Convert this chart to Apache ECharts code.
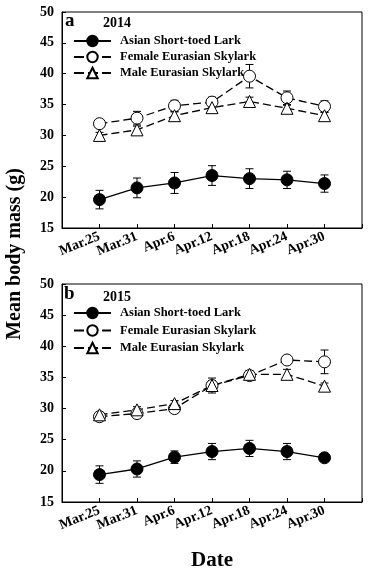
<!DOCTYPE html>
<html><head><meta charset="utf-8">
<script src="https://cdn.jsdelivr.net/npm/echarts@6/dist/echarts.min.js"></script>
<style>html,body{margin:0;padding:0;background:#fff}#c{width:370px;height:573px}</style>
</head><body><div id="c"></div>
<script>
const dates = ['Mar.25','Mar.31','Apr.6','Apr.12','Apr.18','Apr.24','Apr.30'];
const seriesNames = ['Asian Short-toed Lark','Female Eurasian Skylark','Male Eurasian Skylark'];
const yTicks = [15,20,25,30,35,40,45,50];
// 2014
const asian2014 = [19.6,21.5,22.3,23.5,23.0,22.8,22.2];
const asian2014Err = [1.5,1.6,1.7,1.6,1.6,1.4,1.4];
const female2014 = [31.9,32.8,34.8,35.4,39.6,36.1,34.7];
const female2014Err = [0.6,1.1,0.9,0.8,1.9,1.1,0.9];
const male2014 = [30.0,30.9,33.2,34.5,35.5,34.4,33.2];
const male2014Err = [0.5,0.6,0.6,0.5,0.7,0.5,0.5];
// 2015
const asian2015 = [19.4,20.3,22.2,23.1,23.6,23.1,22.1];
const asian2015Err = [1.4,1.3,1.0,1.3,1.3,1.3,0.6];
const female2015 = [28.7,29.2,30.0,33.7,35.3,37.8,37.5];
const female2015Err = [0.4,0.5,0.4,1.2,0.6,0.6,1.9];
const male2015 = [29.0,29.8,30.8,33.7,35.5,35.5,33.6];
const male2015Err = [0.4,0.5,0.5,0.8,0.6,0.8,0.5];

const FONT = '"Liberation Serif", "Times New Roman", serif';
const chart = echarts.init(document.getElementById('c'));

function pts(vals){ return vals.map((v,i)=>[i+1,v]); }
function errData(vals,errs){ return vals.map((v,i)=>[i+1,v-errs[i],v+errs[i]]); }

function lineSeries(name, vals, idx, kind){
  const base = {
    name, type:'line', xAxisIndex:idx, yAxisIndex:idx, data:pts(vals),
    symbolSize:12, z:5, animation:false
  };
  if(kind===0){
    base.symbol='circle';
    base.itemStyle={color:'#000',borderColor:'#000',borderWidth:1};
    base.lineStyle={color:'#000',width:1.3,type:'solid'};
  } else {
    base.symbol = kind===1 ? 'circle' : 'triangle';
    base.itemStyle={color:'#fff',borderColor:'#000',borderWidth:1};
    base.lineStyle={color:'#000',width:1.3,type:[8,4]};
  }
  return base;
}
function errSeries(vals, errs, idx){
  return {
    type:'custom', xAxisIndex:idx, yAxisIndex:idx, z:3, silent:true, animation:false,
    data: errData(vals,errs),
    renderItem:function(params, api){
      const lo = api.coord([api.value(0), api.value(1)]);
      const hi = api.coord([api.value(0), api.value(2)]);
      const w = 4;
      const st = {stroke:'#000', lineWidth:1};
      return {type:'group', children:[
        {type:'line', shape:{x1:lo[0],y1:lo[1],x2:hi[0],y2:hi[1]}, style:st},
        {type:'line', shape:{x1:lo[0]-w,y1:lo[1],x2:lo[0]+w,y2:lo[1]}, style:st},
        {type:'line', shape:{x1:hi[0]-w,y1:hi[1],x2:hi[0]+w,y2:hi[1]}, style:st}
      ]};
    }
  };
}
function xAxisDef(idx){
  return {
    gridIndex:idx, type:'value', min:0, max:8, interval:1,
    axisLine:{show:true,lineStyle:{color:'#000',width:1}},
    axisTick:{show:true,inside:true,length:4,lineStyle:{color:'#000'}},
    splitLine:{show:false},
    axisLabel:{
      rotate:22, margin:8, color:'#000', fontFamily:FONT, fontWeight:'bold', fontSize:14,
      formatter:function(v){ return (v>=1 && v<=7) ? dates[v-1] : ''; }
    }
  };
}
function yAxisDef(idx){
  return {
    gridIndex:idx, type:'value', min:yTicks[0], max:yTicks[yTicks.length-1], interval:5,
    axisLine:{show:true,lineStyle:{color:'#000',width:1}},
    axisTick:{show:true,inside:true,length:4,lineStyle:{color:'#000'}},
    splitLine:{show:false},
    axisLabel:{color:'#000', fontFamily:FONT, fontWeight:'bold', fontSize:14, margin:8}
  };
}
function legendDef(top, gap){
  return {
    data:[
      {name:seriesNames[0]},
      {name:seriesNames[1], lineStyle:{type:[10,4]}},
      {name:seriesNames[2], lineStyle:{type:[10,4]}}
    ],
    orient:'vertical', left:73, top:top, itemWidth:37, itemHeight:13,
    itemGap:gap, selectedMode:false, padding:0,
    textStyle:{color:'#000', fontFamily:FONT, fontWeight:'bold', fontSize:12.5, padding:[0,0,0,4]}
  };
}

chart.setOption({
  backgroundColor:'#fff',
  animation:false,
  grid:[
    {left:62, top:12, width:300, height:216, show:true, borderColor:'#000', borderWidth:1, backgroundColor:'transparent'},
    {left:62, top:284, width:300, height:218, show:true, borderColor:'#000', borderWidth:1, backgroundColor:'transparent'}
  ],
  xAxis:[xAxisDef(0), xAxisDef(1)],
  yAxis:[yAxisDef(0), yAxisDef(1)],
  legend:[legendDef(34.5,3), legendDef(306.5,4.5)],
  graphic:[
    {type:'text', left:65, top:12, style:{text:'a', fill:'#000', font:'bold 19px '+FONT}},
    {type:'text', left:103, top:16, style:{text:'2014', fill:'#000', font:'bold 14px '+FONT}},
    {type:'text', left:64, top:285, style:{text:'b', fill:'#000', font:'bold 19px '+FONT}},
    {type:'text', left:103, top:290, style:{text:'2015', fill:'#000', font:'bold 14px '+FONT}},
    {type:'text', x:15, y:254, rotation:Math.PI/2,
      style:{text:'Mean body mass (g)', fill:'#000', font:'bold 20px '+FONT, align:'center', verticalAlign:'middle'}},
    {type:'text', x:212, y:561,
      style:{text:'Date', fill:'#000', font:'bold 21px '+FONT, align:'center', verticalAlign:'middle'}}
  ],
  series:[
    errSeries(asian2014, asian2014Err, 0),
    errSeries(female2014, female2014Err, 0),
    errSeries(male2014, male2014Err, 0),
    lineSeries(seriesNames[0], asian2014, 0, 0),
    lineSeries(seriesNames[1], female2014, 0, 1),
    lineSeries(seriesNames[2], male2014, 0, 2),
    errSeries(asian2015, asian2015Err, 1),
    errSeries(female2015, female2015Err, 1),
    errSeries(male2015, male2015Err, 1),
    lineSeries(seriesNames[0], asian2015, 1, 0),
    lineSeries(seriesNames[1], female2015, 1, 1),
    lineSeries(seriesNames[2], male2015, 1, 2)
  ]
});
</script></body></html>
